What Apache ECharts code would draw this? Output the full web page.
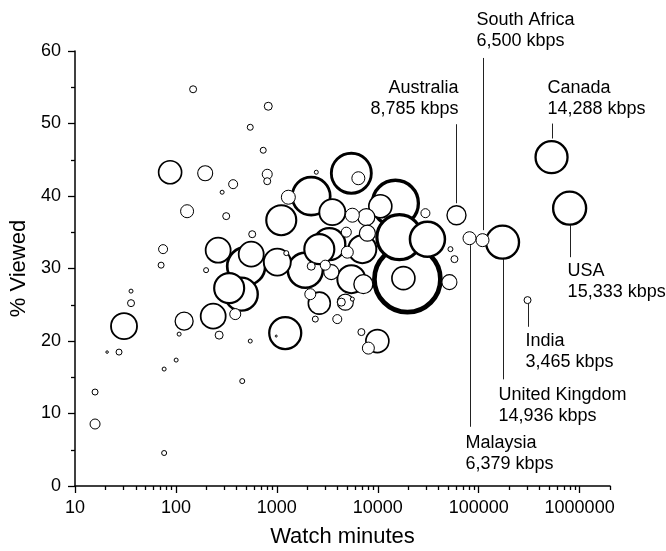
<!DOCTYPE html>
<html>
<head>
<meta charset="utf-8">
<style>
  html, body { margin: 0; padding: 0; background: #fff; }
  #chart { width: 666px; height: 551px; }
</style>
<script src="https://cdn.jsdelivr.net/npm/echarts@6/dist/echarts.min.js"></script>
</head>
<body>
<div id="chart"></div>
<script>
// ---- unlabelled countries: watch minutes, % viewed, bubble size ----
const watchMinutes = [
  15.8, 15.8, 20.8, 27.3, 30.6, 35.9, 35.9, 71.3, 74.6, 76.4,
  76.4, 100.5, 107.6, 120.6, 87.6, 195, 129, 148, 369, 287,
  315, 199, 262, 545, 822, 733, 803, 803, 2460, 5470,
  6420, 2190, 1300, 1106, 3545, 5600, 7700, 10600, 14950, 29650,
  570, 4880, 7890, 16370, 31050, 3310, 2635, 4990, 7030, 497,
  337, 444, 557, 387, 234, 268, 545, 454, 1211, 986,
  1914, 2190, 1010, 1240, 3020, 3465, 5470, 7200, 2145, 2635,
  4355, 4770, 5600, 2405, 3970, 6880, 9910, 8070, 19670, 17950,
  51300, 52500, 57500
];
const pctViewed = [
  8.55, 12.96, 18.47, 18.47, 22.05, 25.22, 26.88, 30.46, 32.67, 16.13,
  4.55, 17.37, 20.95, 22.74, 43.28, 43.14, 37.9, 54.72, 41.63, 40.52,
  37.22, 29.77, 32.53, 49.48, 52.38, 46.31, 43.0, 42.04, 43.28, 43.14,
  42.45, 39.97, 39.83, 36.66, 37.77, 37.35, 37.08, 38.59, 39.0, 37.63,
  34.73, 35.01, 34.87, 34.32, 34.05, 33.36, 32.67, 32.25, 32.67, 30.32,
  27.29, 26.46, 31.98, 23.71, 23.43, 20.81, 19.99, 14.47, 21.09, 20.68,
  29.77, 30.32, 30.88, 32.12, 30.46, 29.5, 28.53, 27.84, 26.46, 25.22,
  25.36, 25.36, 25.78, 23.02, 23.02, 21.23, 19.99, 19.02, 28.53, 28.67,
  28.12, 32.67, 31.29
];
const bubbleSize = [
  10, 6, 2.5, 6, 26, 7, 4, 6, 9, 4,
  5, 4, 4, 18, 23, 15, 13, 7, 9, 4,
  7, 5, 25, 6, 8, 6, 10, 7, 4, 40,
  13, 38, 14, 30, 26, 14, 17, 23, 46, 9,
  7, 10, 16, 45, 35, 32, 30, 12, 28, 38,
  30, 33, 25, 11, 25, 8, 4, 5, 32, 2,
  35, 8, 27, 5, 10, 15, 28, 19, 11, 22,
  8, 16, 4, 6, 9, 7, 23, 12, 66, 23,
  15, 5, 7
];

// ---- labelled countries ----
const labelCountry = ['Australia', 'South Africa', 'Canada', 'USA', 'India', 'United Kingdom', 'Malaysia'];
const labelKbps = ['8,785 kbps', '6,500 kbps', '14,288 kbps', '15,333 kbps', '3,465 kbps', '14,936 kbps', '6,379 kbps'];
const labelMinutes = [60250, 109100, 527000, 796000, 304800, 172200, 81100];
const labelViewed = [37.35, 33.91, 45.35, 38.32, 25.64, 33.63, 34.18];
const labelSize = [19, 13, 32, 33, 7, 33, 13];

// leader line ends and first text line, in % viewed
const calloutFrom = [39.0, 35.29, 47.93, 35.98, 25.16, 31.29, 33.22];
const calloutTo = [49.9, 59.04, 49.99, 31.56, 21.96, 14.71, 8.17];
const calloutTextY = [54.86, 64.23, 54.86, 29.63, 19.99, 12.54, 5.93];
const calloutAlign = ['right', 'left', 'left', 'left', 'left', 'left', 'left'];
const calloutDx = [2, -6, -4, -2, -2, -4, -4];

// ---- ticks ----
const xMajorTicks = [10, 100, 1000, 10000, 100000, 1000000];
const xMinorTicks = [];
for (let p = 10; p <= 1000000; p *= 10) {
  for (let m = 2; m <= 9; m++) xMinorTicks.push(m * p);
}

const FONT = 'Liberation Sans, Arial, sans-serif';

// biggest bubbles first so small ones sit on top
const points = [];
watchMinutes.forEach((x, i) => points.push([x, pctViewed[i], bubbleSize[i]]));
labelMinutes.forEach((x, i) => points.push([x, labelViewed[i], labelSize[i]]));
points.sort((a, b) => b[2] - a[2]);

const chart = echarts.init(document.getElementById('chart'), null, { renderer: 'canvas' });

chart.setOption({
  animation: false,
  backgroundColor: '#fff',
  textStyle: { fontFamily: FONT, color: '#000' },
  grid: { left: 75, right: 56, top: 51, bottom: 65, containLabel: false, outerBoundsMode: 'none' },
  xAxis: [
    {
      type: 'log',
      logBase: 10,
      min: 10,
      max: 2000000,
      position: 'bottom',
      name: 'Watch minutes',
      nameLocation: 'middle',
      nameGap: 40,
      nameTextStyle: { fontSize: 22, color: '#000', fontFamily: FONT },
      axisLine: { show: true, lineStyle: { color: '#000', width: 1.5 } },
      axisTick: { show: true, inside: false, length: 7, customValues: xMajorTicks, lineStyle: { color: '#000', width: 1.3 } },
      axisLabel: { show: true, margin: 13, fontSize: 18, color: '#000', fontFamily: FONT, customValues: xMajorTicks, formatter: v => String(Math.round(v)) },
      splitLine: { show: false },
      minorTick: { show: false }
    },
    {
      type: 'log',
      logBase: 10,
      min: 10,
      max: 2000000,
      position: 'bottom',
      axisLine: { show: false },
      axisTick: { show: true, inside: false, length: 4, customValues: xMinorTicks, lineStyle: { color: '#000', width: 1.3 } },
      axisLabel: { show: false },
      splitLine: { show: false }
    }
  ],
  yAxis: {
    type: 'value',
    min: 0,
    max: 60,
    interval: 10,
    name: '% Viewed',
    nameLocation: 'middle',
    nameGap: 39,
    nameRotate: 90,
    nameTextStyle: { fontSize: 22, color: '#000', fontFamily: FONT },
    axisLine: { show: true, lineStyle: { color: '#000', width: 1.5 } },
    axisTick: { show: true, inside: false, length: 7, lineStyle: { color: '#000', width: 1.3 } },
    minorTick: { show: true, splitNumber: 2, length: 4, lineStyle: { color: '#000', width: 1.3 } },
    axisLabel: { margin: 14, fontSize: 18, color: '#000', fontFamily: FONT },
    splitLine: { show: false },
    minorSplitLine: { show: false }
  },
  series: [{
    type: 'scatter',
    xAxisIndex: 0,
    yAxisIndex: 0,
    symbol: 'circle',
    symbolSize: v => v[2],
    emphasis: { disabled: true },
    itemStyle: { opacity: 1 },
    data: points.map(p => ({
      value: p,
      itemStyle: { color: '#fff', borderColor: '#000', opacity: 1, borderWidth: Math.max(1, p[2] / 14) }
    }))
  }]
});

// callouts: leader lines and labels placed through the axes
const graphics = [];
labelCountry.forEach((name, k) => {
  const a = chart.convertToPixel({ xAxisIndex: 0, yAxisIndex: 0 }, [labelMinutes[k], calloutFrom[k]]);
  const b = chart.convertToPixel({ xAxisIndex: 0, yAxisIndex: 0 }, [labelMinutes[k], calloutTo[k]]);
  const t = chart.convertToPixel({ xAxisIndex: 0, yAxisIndex: 0 }, [labelMinutes[k], calloutTextY[k]]);
  const lx = Math.round(a[0]) + 0.5;
  graphics.push({
    type: 'line',
    silent: true,
    shape: { x1: lx, y1: a[1], x2: lx, y2: b[1] },
    style: { stroke: '#222', lineWidth: 1 }
  });
  graphics.push({
    type: 'text',
    silent: true,
    x: a[0] + calloutDx[k],
    y: t[1] - 10.5,
    style: {
      text: name + '\n' + labelKbps[k],
      fontSize: 18,
      fontFamily: FONT,
      lineHeight: 21,
      fill: '#000',
      align: calloutAlign[k],
      verticalAlign: 'top'
    }
  });
});
chart.setOption({ graphic: graphics });
</script>
</body>
</html>
